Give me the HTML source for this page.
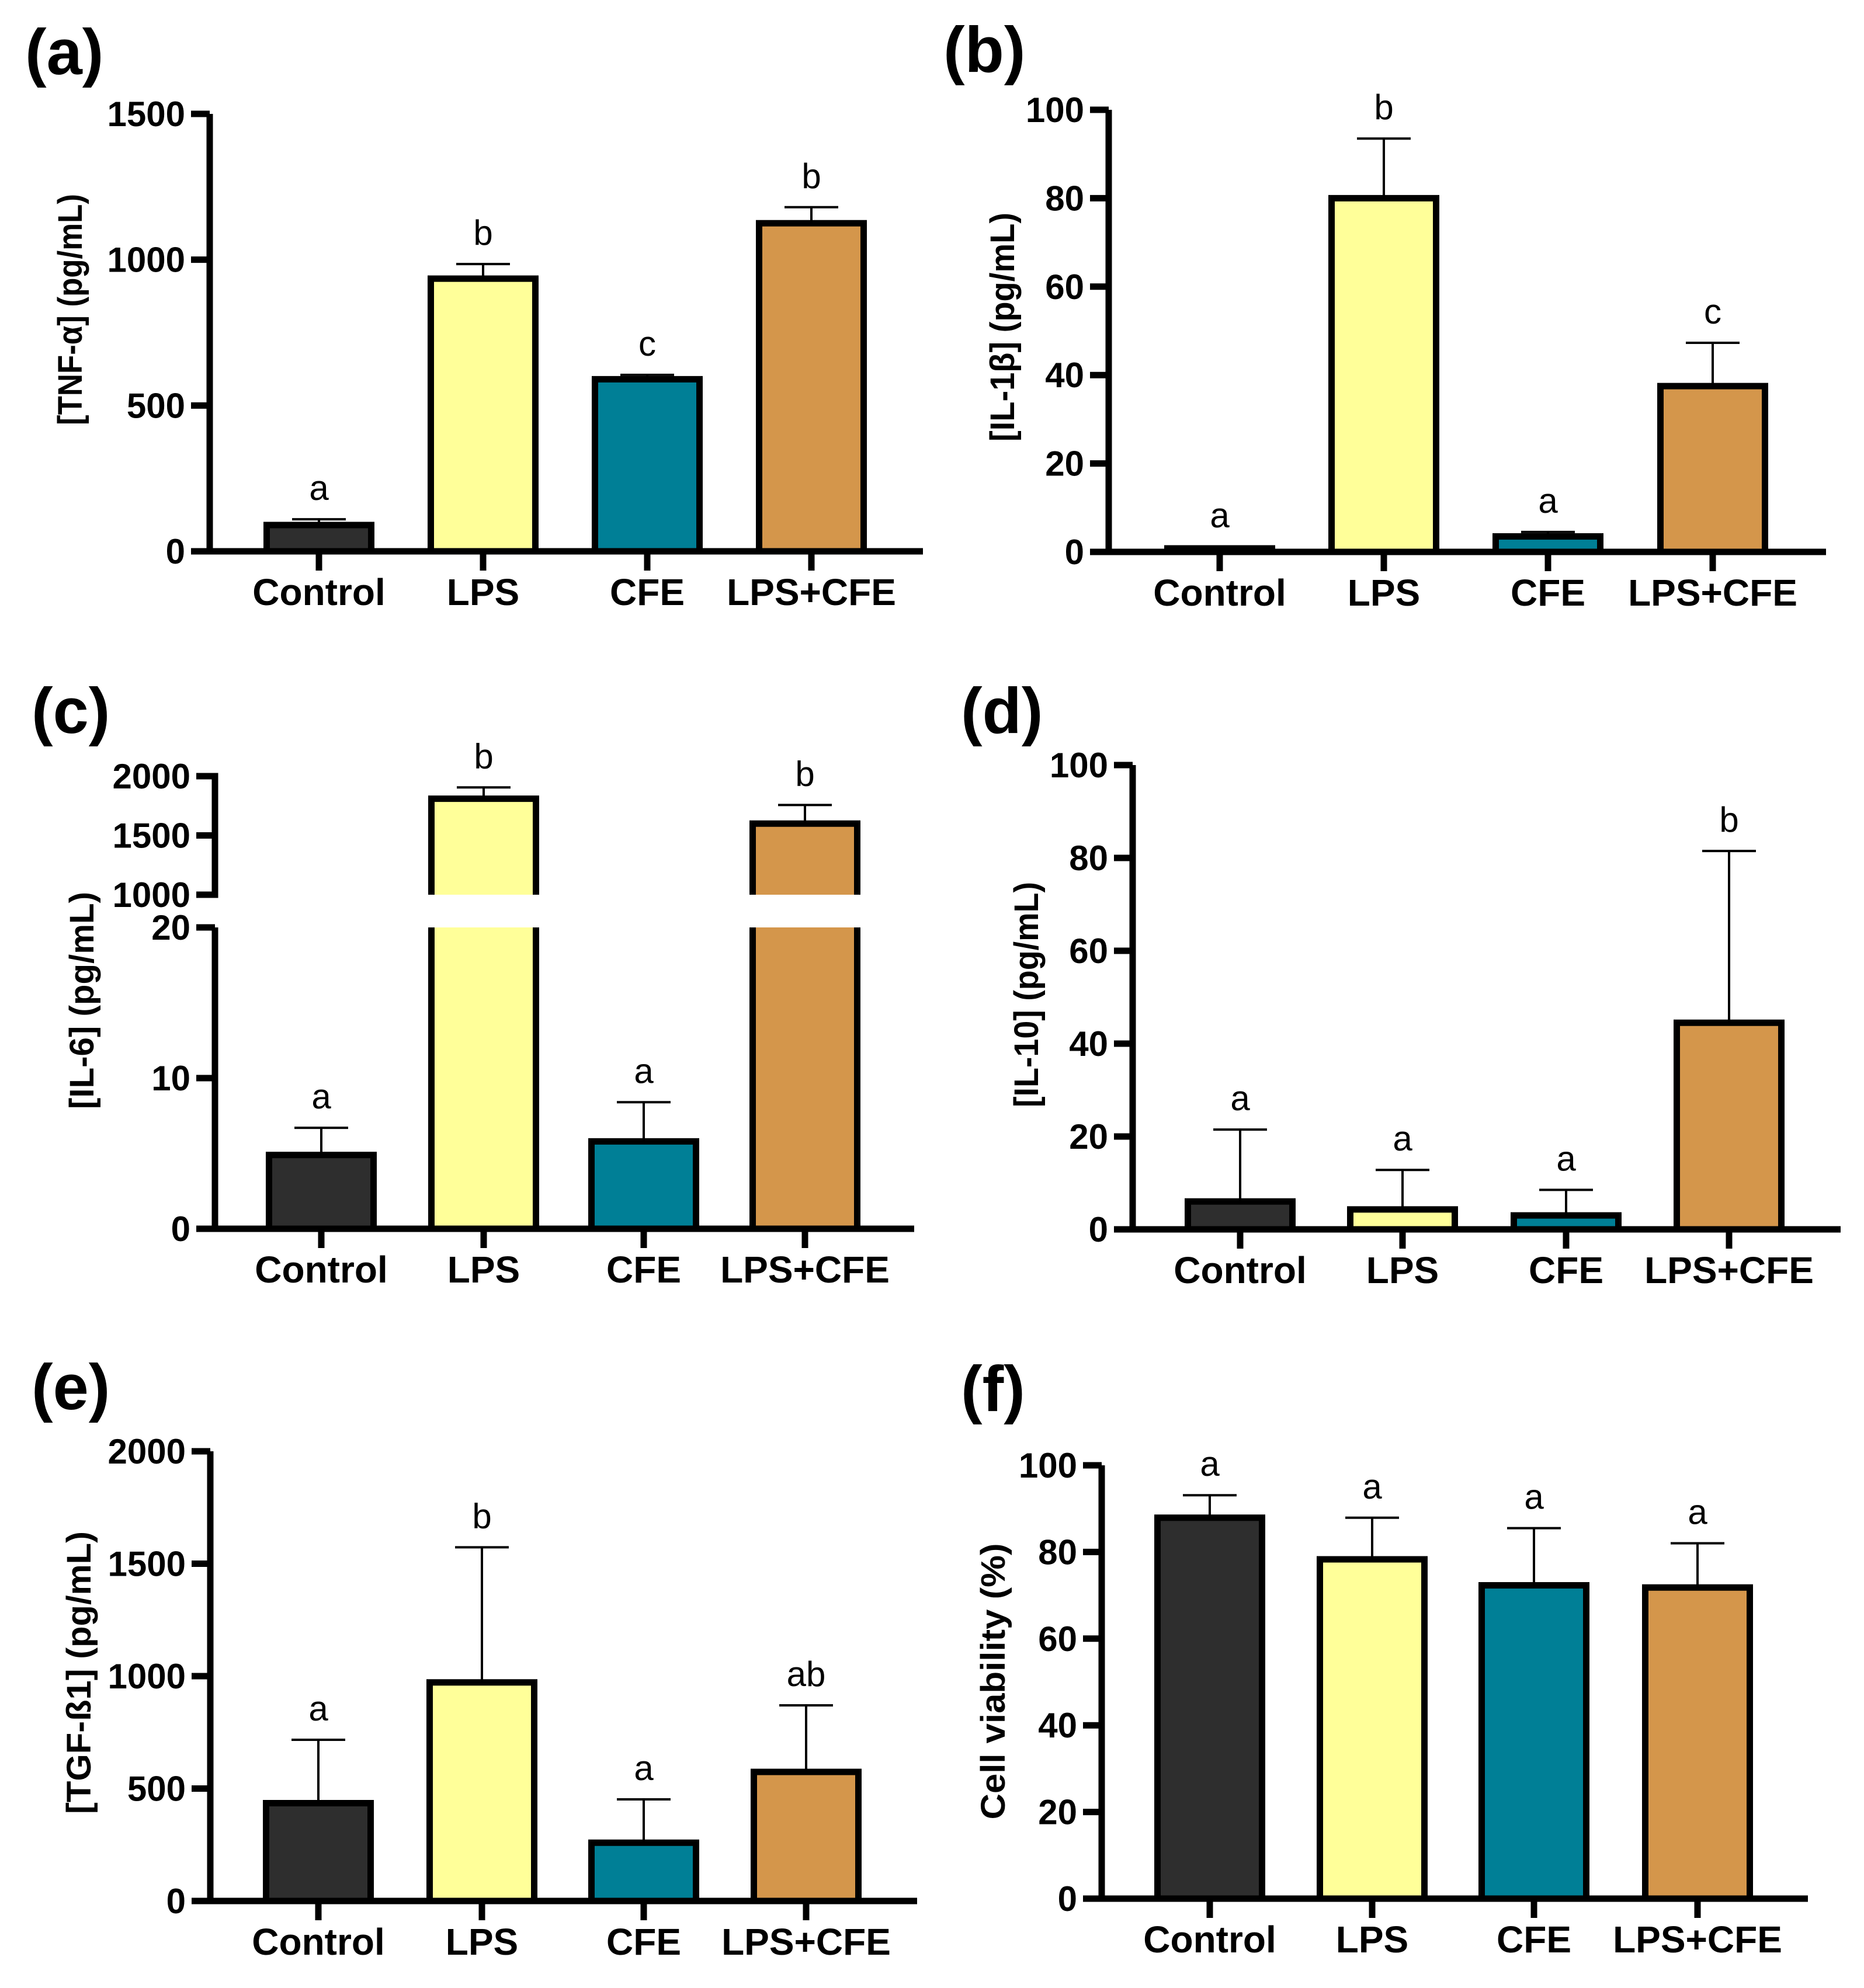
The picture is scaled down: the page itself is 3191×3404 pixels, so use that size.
<!DOCTYPE html>
<html><head><meta charset="utf-8"><style>
html,body{margin:0;padding:0;background:#fff;}
svg{display:block;}
text{font-family:"Liberation Sans",Arial,sans-serif;fill:#000;}
</style></head><body>
<svg id="fig" xmlns="http://www.w3.org/2000/svg" width="3191" height="3404" viewBox="0 0 3191 3404"></svg>
<script>
// ---- data ----
const categories = ["Control","LPS","CFE","LPS+CFE"];
const colors = ["#2e2e2e","#ffff99","#007f96","#d4964b"];
const tnfValues = [90, 935, 590, 1125];
const tnfErr = [110, 985, 605, 1180];
const tnfLetters = ["a","b","c","b"];
const tnfTicks = [0,500,1000,1500];
const il1Values = [0.8, 80, 3.5, 37.5];
const il1Err = [1.2, 93.5, 4.5, 47.3];
const il1Letters = ["a","b","a","c"];
const il1Ticks = [0,20,40,60,80,100];
const il6Values = [4.9, 1810, 5.8, 1600];
const il6Err = [6.7, 1905, 8.4, 1757];
const il6Letters = ["a","b","a","b"];
const il6LowTicks = [0,10,20];
const il6HighTicks = [1000,1500,2000];
const il10Values = [6, 4.3, 3, 44.5];
const il10Err = [21.5, 12.8, 8.5, 81.5];
const il10Letters = ["a","a","a","b"];
const il10Ticks = [0,20,40,60,80,100];
const tgfValues = [435, 972, 259, 574];
const tgfErr = [717, 1573, 452, 870];
const tgfLetters = ["a","b","a","ab"];
const tgfTicks = [0,500,1000,1500,2000];
const viaValues = [87.9, 78.3, 72.3, 71.8];
const viaErr = [93.1, 87.9, 85.5, 82.0];
const viaLetters = ["a","a","a","a"];
const viaTicks = [0,20,40,60,80,100];

const NS = "http://www.w3.org/2000/svg";
const svg = document.getElementById("fig");
function mk(tag, attrs, parent){
  const e = document.createElementNS(NS, tag);
  for (const k in attrs) e.setAttribute(k, attrs[k]);
  (parent||svg).appendChild(e);
  return e;
}
function txt(parent, x, y, s, size, weight, anchor){
  const t = mk("text", {x:x, y:y, "font-size":size, "font-weight":weight, "text-anchor":anchor}, parent);
  t.textContent = s;
  return t;
}

function panel(cfg){
  const g = mk("g", {});
  
  
  const pl = txt(g, cfg.labelX, cfg.labelY, cfg.label, 110, "bold", "start");
  
  
  const yt = txt(g, cfg.titleX, cfg.titleY, cfg.title, 58, "bold", "middle");
  yt.setAttribute("transform", "rotate(-90 " + cfg.titleX + " " + cfg.titleY + ")");
  yt.setAttribute("textLength", cfg.titleLen);
  yt.setAttribute("lengthAdjust", "spacingAndGlyphs");
  
  

  const segs = cfg.segments;
  const barW = 179;
  categories.forEach((c, i) => {
    const cx = cfg.centers[i];
    const v = cfg.values[i];
    segs.forEach((s, si) => {
      const sy = val => s.y0 - (val - s.min) / (s.max - s.min) * (s.y0 - s.yTop);
      if (v <= s.min) return;
      const clipped = v > s.max;
      const topY = clipped ? s.yTop : sy(v);
      const botY = s.y0;
      const bar = mk("rect", {x: cx - barW/2, y: topY, width: barW, height: Math.max(botY - topY, 0.1), fill: colors[i], stroke: "none"}, g);
      
      
      const sw = 11;
      mk("line", {x1: cx - barW/2, y1: topY, x2: cx - barW/2, y2: botY, stroke:"#000", "stroke-width": sw}, g);
      mk("line", {x1: cx + barW/2, y1: topY, x2: cx + barW/2, y2: botY, stroke:"#000", "stroke-width": sw}, g);
      if (!clipped) {
        mk("line", {x1: cx - barW/2 - sw/2, y1: topY, x2: cx + barW/2 + sw/2, y2: topY, stroke:"#000", "stroke-width": sw}, g);
        const ey = sy(cfg.errs[i]);
        const eb = mk("line", {x1: cx, y1: topY, x2: cx, y2: ey, stroke:"#000", "stroke-width": 4}, g);
        
        
        mk("line", {x1: cx - 46, y1: ey, x2: cx + 46, y2: ey, stroke:"#000", "stroke-width": 4}, g);
        const lt = txt(g, cx, ey - 33, cfg.letters[i], 60, "normal", "middle");
        
        
      }
    });
  });
  segs.forEach(s => {
    const sy = val => s.y0 - (val - s.min) / (s.max - s.min) * (s.y0 - s.yTop);
    const ax = mk("line", {x1: cfg.axisX, y1: s.y0 + (s.base ? 5.5 : 0), x2: cfg.axisX, y2: s.yTop, stroke:"#000", "stroke-width": 11, "stroke-linecap": s.base ? "butt" : "square"}, g);
    
    
    s.ticks.forEach(t => {
      const y = sy(t);
      mk("line", {x1: cfg.axisX - 32, y1: y, x2: cfg.axisX, y2: y, stroke:"#000", "stroke-width": 11}, g);
      const tl = txt(g, cfg.axisX - 42, y + 21, String(t), 60, "bold", "end");
      
      
    });
  });
  const base = segs[0];
  const xa = mk("line", {x1: cfg.axisX - 32, y1: base.y0, x2: cfg.xEnd, y2: base.y0, stroke:"#000", "stroke-width": 11}, g);
  
  
  categories.forEach((c, i) => {
    const cx = cfg.centers[i];
    mk("line", {x1: cx, y1: base.y0, x2: cx, y2: base.y0 + 33, stroke:"#000", "stroke-width": 11}, g);
    const cl = txt(g, cx, base.y0 + 92, c, 64, "bold", "middle");
    
    
  });
}

panel({name:"panel-a-tnf", label:"(a)", labelX:43, labelY:127, title:"[TNF-\u03b1] (pg/mL)", titleX:140, titleY:530, titleLen:396,
  axisX:359, xEnd:1580, centers:[546,827,1108,1389], values:tnfValues, errs:tnfErr, letters:tnfLetters,
  segments:[{min:0,max:1500,y0:944,yTop:195,ticks:tnfTicks,base:true}]});
panel({name:"panel-b-il1b", label:"(b)", labelX:1615, labelY:123, title:"[IL-1\u03b2] (pg/mL)", titleX:1736, titleY:560, titleLen:392,
  axisX:1898, xEnd:3126, centers:[2088,2369,2650,2932], values:il1Values, errs:il1Err, letters:il1Letters,
  segments:[{min:0,max:100,y0:945,yTop:188,ticks:il1Ticks,base:true}]});
panel({name:"panel-c-il6", label:"(c)", labelX:54, labelY:1255, title:"[IL-6] (pg/mL)", titleX:160, titleY:1713, titleLen:372,
  axisX:368, xEnd:1565, centers:[550,828,1102,1378], values:il6Values, errs:il6Err, letters:il6Letters,
  segments:[{min:0,max:20,y0:2104,yTop:1588,ticks:il6LowTicks,base:true},{min:1000,max:2000,y0:1532,yTop:1329,ticks:il6HighTicks,base:false}]});
panel({name:"panel-d-il10", label:"(d)", labelX:1645, labelY:1255, title:"[IL-10] (pg/mL)", titleX:1777, titleY:1703, titleLen:386,
  axisX:1939, xEnd:3151, centers:[2123,2401,2681,2960], values:il10Values, errs:il10Err, letters:il10Letters,
  segments:[{min:0,max:100,y0:2105,yTop:1310,ticks:il10Ticks,base:true}]});
panel({name:"panel-e-tgfb1", label:"(e)", labelX:54, labelY:2413, title:"[TGF-\u00df1] (pg/mL)", titleX:155, titleY:2864, titleLen:484,
  axisX:360, xEnd:1570, centers:[545,825,1102,1380], values:tgfValues, errs:tgfErr, letters:tgfLetters,
  segments:[{min:0,max:2000,y0:3255,yTop:2485,ticks:tgfTicks,base:true}]});
panel({name:"panel-f-viability", label:"(f)", labelX:1645, labelY:2416, title:"Cell viability (%)", titleX:1720, titleY:2879, titleLen:473,
  axisX:1886, xEnd:3095, centers:[2071,2349,2626,2906], values:viaValues, errs:viaErr, letters:viaLetters,
  segments:[{min:0,max:100,y0:3251,yTop:2509,ticks:viaTicks,base:true}]});
</script>
</body></html>
